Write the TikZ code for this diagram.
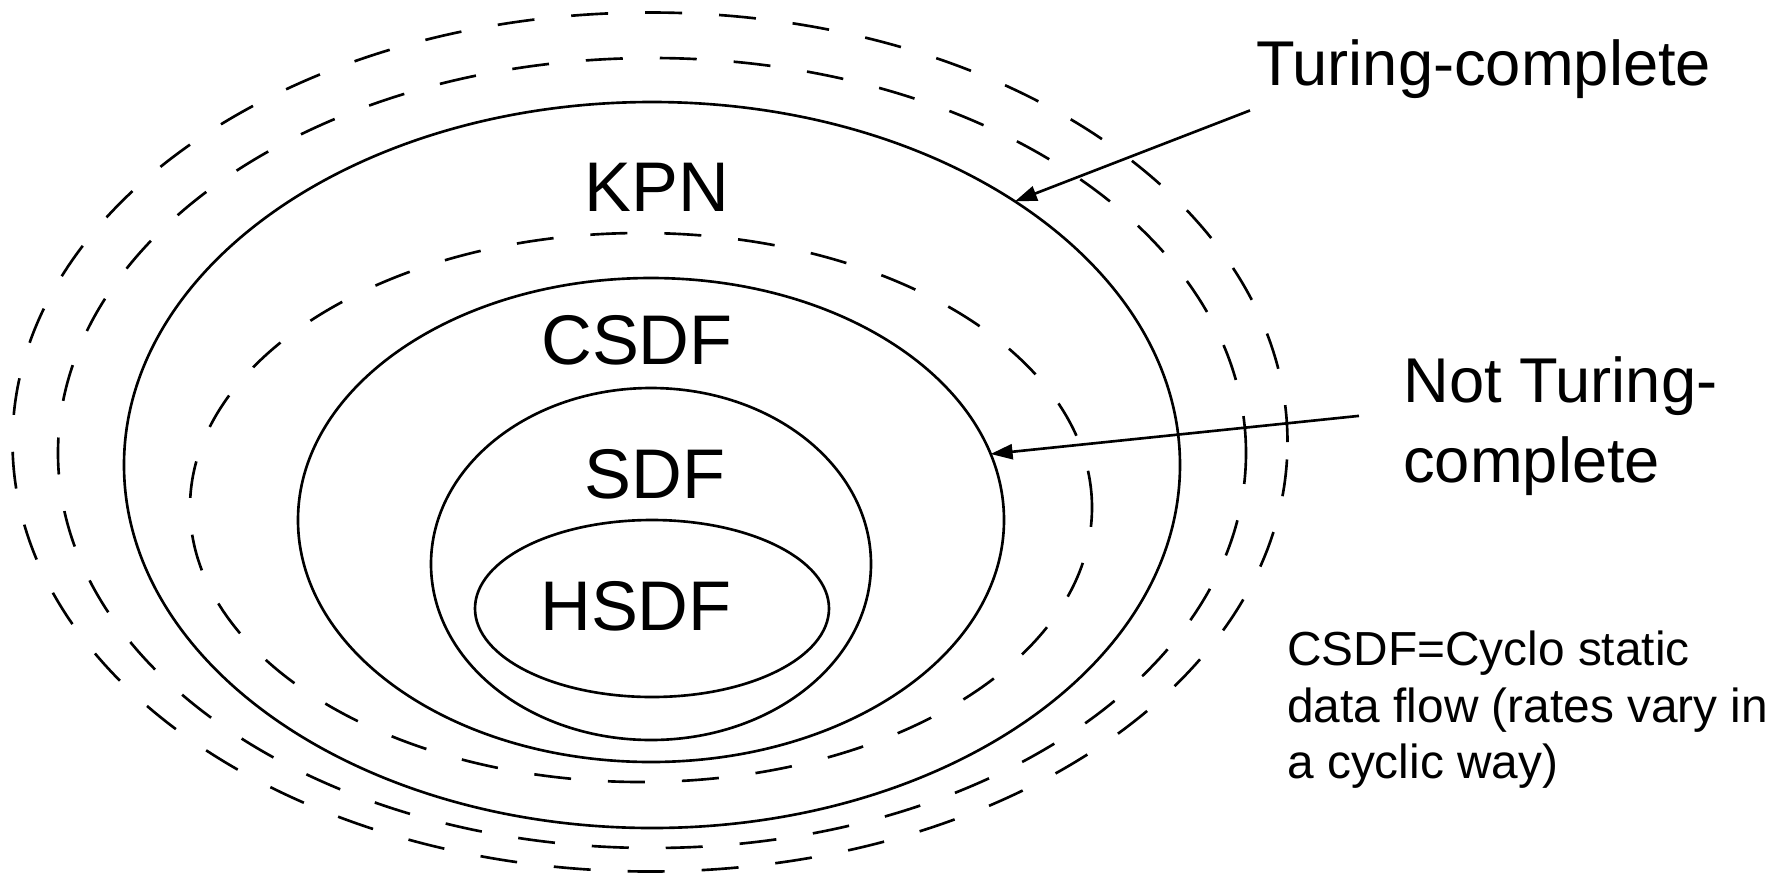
\documentclass[tikz,border=0pt]{standalone}
\usepackage{fontspec}
\setmainfont{Liberation Sans}
\usetikzlibrary{shapes.geometric,arrows.meta}

\begin{document}
\begin{tikzpicture}[line width=0.75pt,inner sep=0pt,
  set/.style={ellipse,draw,outer sep=0pt},
  bound/.style={set,dash pattern=on 3.7mm off 3.7mm},
  cls/.style={font=\fontsize{20}{24}\selectfont},
  remark/.style={font=\fontsize{18}{22.8}\selectfont,align=left},
  pointer/.style={-{Triangle[length=2.2mm,width=1.5mm]}}]
\useasboundingbox (0,0) rectangle (17.83,-8.74);
% nested classes
\node[bound,minimum width=12.75cm,minimum height=8.59cm] (outer) at (6.50,-4.42) {};
\node[bound,minimum width=11.88cm,minimum height=7.90cm] (turingb) at (6.52,-4.53) {};
\node[set,minimum width=10.56cm,minimum height=7.26cm] (kpn) at (6.52,-4.65) {};
\node[bound,minimum width=9.02cm,minimum height=5.49cm] (staticb) at (6.41,-5.075) {};
\node[set,minimum width=7.06cm,minimum height=4.84cm] (csdf) at (6.51,-5.20) {};
\node[set,minimum width=4.40cm,minimum height=3.52cm] (sdf) at (6.51,-5.64) {};
\node[set,minimum width=3.54cm,minimum height=1.77cm] (hsdf) at (6.52,-6.085) {};
% class names
\node[cls] (kpnlabel) at (6.57,-1.87) {KPN};
\node[cls] (csdflabel) at (6.37,-3.40) {CSDF};
\node[cls] (sdflabel) at (6.55,-4.74) {SDF};
\node[cls] (hsdflabel) at (6.36,-6.06) {HSDF};
% remarks
\node[remark,anchor=base west] (turing) at (12.55,-0.85) {Turing-complete};
\node[remark,anchor=north west] (notturing) at (14.02,-3.55) {Not Turing-\\complete};
\node[remark,anchor=north west,font=\fontsize{13.6}{16}\selectfont] (csdfnote) at (12.86,-6.30)
  {CSDF=Cyclo static\\data flow (rates vary in\\a cyclic way)};
\draw[pointer] ([shift={(-0.5mm,-1.1mm)}]turing.south west) -- (kpn.36.5);
\draw[pointer] ([shift={(-4.3mm,1mm)}]notturing.west) -- (csdf.11);
\end{tikzpicture}
\end{document}
